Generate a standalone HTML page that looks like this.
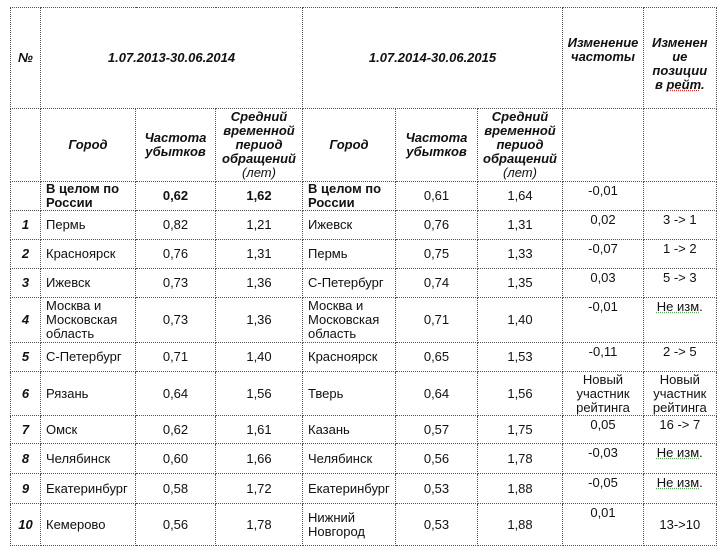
<!DOCTYPE html>
<html><head><meta charset="utf-8"><style>
body{margin:0;background:#fff;width:720px;height:554px;overflow:hidden;font-family:"Liberation Sans",Arial,sans-serif;font-size:13px;color:#111}
table{position:absolute;left:10px;top:7px;border-collapse:collapse;table-layout:fixed}
td{border:1px dotted #555;padding:0 2px;text-align:center;vertical-align:middle;line-height:14px;overflow:hidden}
.h{font-weight:bold;font-style:italic}
.n{font-weight:bold;font-style:italic}
.c{text-align:left;padding-left:5px;padding-right:0}
.t{vertical-align:top;padding-top:2px}
.b{font-weight:bold}
u{text-decoration:underline dotted #6a6}
</style></head><body>
<table>
<colgroup><col style="width:30px"><col style="width:95px"><col style="width:80px"><col style="width:87px"><col style="width:93px"><col style="width:82px"><col style="width:85px"><col style="width:81px"><col style="width:69px"></colgroup>
<tr style="height:101px"><td class="h">№</td><td class="h" colspan="3">1.07.2013-30.06.2014</td><td class="h" colspan="3">1.07.2014-30.06.2015</td><td class="h" style="vertical-align:top;padding-top:28px">Изменение частоты</td><td class="h" style="vertical-align:top;padding:28px 8px 0">Изменен ие позиции в <u style="text-decoration-color:#c33">рейт</u>.</td></tr>
<tr style="height:73px"><td></td><td class="h">Город</td><td class="h">Частота убытков</td><td class="h">Средний временной период обращений <span style="font-weight:normal">(лет)</span></td><td class="h">Город</td><td class="h">Частота убытков</td><td class="h">Средний временной период обращений <span style="font-weight:normal">(лет)</span></td><td></td><td></td></tr>
<tr style="height:29px"><td></td><td class="c b">В целом по России</td><td class="b">0,62</td><td class="b">1,62</td><td class="c b">В целом по России</td><td>0,61</td><td>1,64</td><td class="t">-0,01</td><td></td></tr>
<tr style="height:29px"><td class="n">1</td><td class="c">Пермь</td><td>0,82</td><td>1,21</td><td class="c">Ижевск</td><td>0,76</td><td>1,31</td><td class="t">0,02</td><td class="t">3 -&gt; 1</td></tr>
<tr style="height:29px"><td class="n">2</td><td class="c">Красноярск</td><td>0,76</td><td>1,31</td><td class="c">Пермь</td><td>0,75</td><td>1,33</td><td class="t">-0,07</td><td class="t">1 -&gt; 2</td></tr>
<tr style="height:29px"><td class="n">3</td><td class="c">Ижевск</td><td>0,73</td><td>1,36</td><td class="c">С-Петербург</td><td>0,74</td><td>1,35</td><td class="t">0,03</td><td class="t">5 -&gt; 3</td></tr>
<tr style="height:45px"><td class="n">4</td><td class="c">Москва и Московская область</td><td>0,73</td><td>1,36</td><td class="c">Москва и Московская область</td><td>0,71</td><td>1,40</td><td class="t">-0,01</td><td class="t"><u>Не изм</u>.</td></tr>
<tr style="height:29px"><td class="n">5</td><td class="c">С-Петербург</td><td>0,71</td><td>1,40</td><td class="c">Красноярск</td><td>0,65</td><td>1,53</td><td class="t">-0,11</td><td class="t">2 -&gt; 5</td></tr>
<tr style="height:44px"><td class="n">6</td><td class="c">Рязань</td><td>0,64</td><td>1,56</td><td class="c">Тверь</td><td>0,64</td><td>1,56</td><td>Новый участник рейтинга</td><td>Новый участник рейтинга</td></tr>
<tr style="height:28px"><td class="n">7</td><td class="c">Омск</td><td>0,62</td><td>1,61</td><td class="c">Казань</td><td>0,57</td><td>1,75</td><td class="t">0,05</td><td class="t">16 -&gt; 7</td></tr>
<tr style="height:30px"><td class="n">8</td><td class="c">Челябинск</td><td>0,60</td><td>1,66</td><td class="c">Челябинск</td><td>0,56</td><td>1,78</td><td class="t">-0,03</td><td class="t"><u>Не изм</u>.</td></tr>
<tr style="height:30px"><td class="n">9</td><td class="c">Екатеринбург</td><td>0,58</td><td>1,72</td><td class="c">Екатеринбург</td><td>0,53</td><td>1,88</td><td class="t">-0,05</td><td class="t"><u>Не изм</u>.</td></tr>
<tr style="height:42px"><td class="n">10</td><td class="c">Кемерово</td><td>0,56</td><td>1,78</td><td class="c">Нижний Новгород</td><td>0,53</td><td>1,88</td><td class="t">0,01</td><td>13-&gt;10</td></tr>
</table>
</body></html>
